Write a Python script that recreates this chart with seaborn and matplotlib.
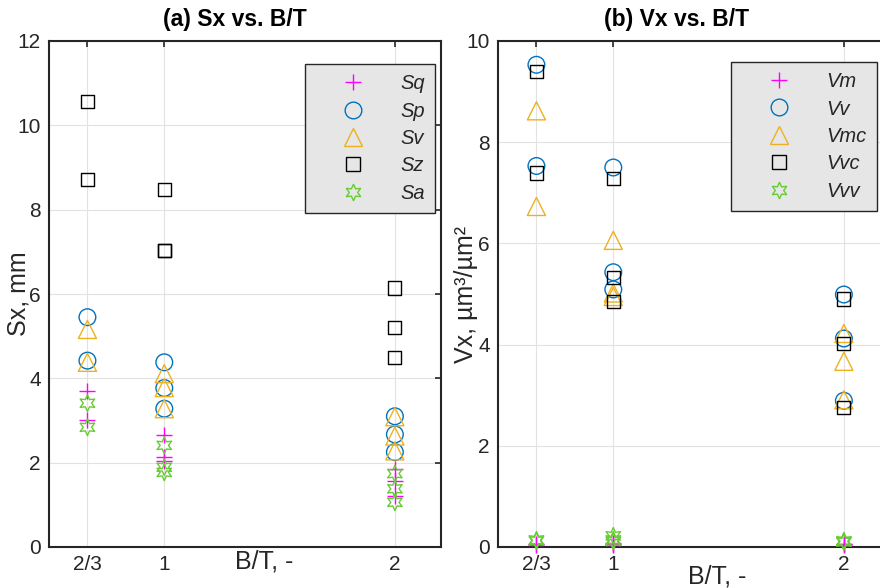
import numpy as np
import pandas as pd
import matplotlib
matplotlib.use("Agg")
import matplotlib.pyplot as plt
from matplotlib.lines import Line2D
import seaborn as sns

# B/T ratio of each measured sample
bt = [2/3, 2/3, 1, 1, 1, 2, 2, 2]

# (a) height parameters, mm
sq = [3.71, 3.02, 2.66, 2.13, 2.03, 1.84, 1.56, 1.20]
sp = [5.45, 4.42, 4.38, 3.77, 3.28, 3.10, 2.67, 2.25]
sv = [5.16, 4.38, 4.11, 3.78, 3.28, 3.09, 2.63, 2.28]
sz = [10.56, 8.71, 8.47, 7.04, 7.04, 6.14, 5.21, 4.50]
sa = [3.41, 2.84, 2.41, 1.89, 1.77, 1.74, 1.38, 1.06]

# (b) volume parameters, um^3/um^2
vm = [0.04, 0.05, 0.05, 0.07, 0.04, 0.04, 0.06, 0.05]
vv = [9.53, 7.53, 7.50, 5.43, 5.09, 4.99, 4.12, 2.89]
vmc = [8.62, 6.73, 6.06, 5.02, 4.95, 4.22, 3.67, 2.91]
vvc = [9.39, 7.39, 7.29, 5.33, 4.85, 4.90, 4.02, 2.76]
vvv = [0.14, 0.12, 0.22, 0.14, 0.11, 0.11, 0.10, 0.12]

x_ticks = [2/3, 1, 2]
x_ticklabels = ["2/3", "1", "2"]

sns.set_style("white")
plt.rcParams["font.family"] = ["Liberation Sans", "DejaVu Sans"]
plt.rcParams["axes.unicode_minus"] = False

MAGENTA = "#FF00FF"
BLUE = "#0072BD"
ORANGE = "#EDB120"
BLACK = "#000000"
GREEN = "#66CC33"
HEXAGRAM = (6, 1, 0)
INK = "#262626"

# marker style per series slot: (marker, size in points, colour, hollow)
styles = [
    ("+", 11, MAGENTA, False),
    ("o", 12, BLUE, True),
    ("^", 13, ORANGE, True),
    ("s", 9.5, BLACK, True),
    (HEXAGRAM, 12, GREEN, True),
]

fig = plt.figure(figsize=(8.8, 5.88), dpi=100)
W, H = 880, 588
ax1 = fig.add_axes([49 / W, 1 - 547 / H, 392 / W, 506 / H])
ax2 = fig.add_axes([498 / W, 1 - 547 / H, 392 / W, 506 / H])


def draw_panel(ax, series, names, ylim, yticks, title, title_x, ylabel,
               legend_anchor):
    handles = []
    for vals, name, (mk, ms, col, hollow) in zip(series, names, styles):
        kw = dict(marker=mk, s=ms ** 2, linewidth=1.0, clip_on=False, zorder=3,
                  legend=False)
        if hollow:
            kw.update(facecolor="none", edgecolor=col, color=col)
        else:
            kw.update(color=col)
        sns.scatterplot(x=bt, y=vals, ax=ax, **kw)
        handles.append(Line2D([], [], linestyle="none", marker=mk, markersize=ms,
                              markerfacecolor="none", markeredgecolor=col,
                              color=col, markeredgewidth=1.0, label=name))
    ax.set_xlim(0.5, 2.2)
    ax.set_ylim(*ylim)
    ax.set_xticks(x_ticks)
    ax.set_xticklabels(x_ticklabels)
    ax.set_yticks(yticks)
    ax.grid(True, color="#e2e2e2", linewidth=0.8, zorder=0)
    ax.set_axisbelow(True)
    ax.tick_params(direction="in", length=4, width=1.2, colors=INK,
                   labelsize=15, pad=6, top=True, right=True, labelcolor=INK)
    for s in ax.spines.values():
        s.set_color(INK)
        s.set_linewidth(1.5)
        s.set_visible(True)
    ax.set_title(title, fontsize=16.5, fontweight="bold", color="#000000",
                 pad=11, x=title_x)
    ax.set_ylabel(ylabel, fontsize=18, color=INK)
    ax.set_xlabel("")
    leg = ax.legend(handles=handles, loc="upper right",
                    bbox_to_anchor=legend_anchor, bbox_transform=ax.transAxes,
                    borderaxespad=0, fontsize=14.5,
                    frameon=True, fancybox=False, framealpha=1,
                    facecolor="#e6e6e6", edgecolor=INK,
                    handlelength=3.8, handletextpad=0.45, labelspacing=0.42,
                    borderpad=0.5)
    leg.get_frame().set_linewidth(1.0)
    for t in leg.get_texts():
        t.set_fontstyle("italic")
    return leg


draw_panel(ax1, [sq, sp, sv, sz, sa], ["Sq", "Sp", "Sv", "Sz", "Sa"],
           (0, 12), [0, 2, 4, 6, 8, 10, 12], "(a) Sx vs. B/T", 0.474, "Sx, mm",
           (0.985, 0.9545))
draw_panel(ax2, [vm, vv, vmc, vvc, vvv], ["Vm", "Vv", "Vmc", "Vvc", "Vvv"],
           (0, 10), [0, 2, 4, 6, 8, 10], "(b) Vx vs. B/T", 0.455,
           "Vx, µm³/µm²", (0.967, 0.9585))

ax1.yaxis.set_label_coords(-0.048, 0.5)
ax2.yaxis.set_label_coords(-0.052, 0.5)

ax1.text(0.55, -0.028, "B/T, -", transform=ax1.transAxes, ha="center",
         va="center", fontsize=18, color=INK)
ax2.text(0.56, -0.058, "B/T, -", transform=ax2.transAxes, ha="center",
         va="center", fontsize=18, color=INK)

fig.savefig("out.png", dpi=100)
